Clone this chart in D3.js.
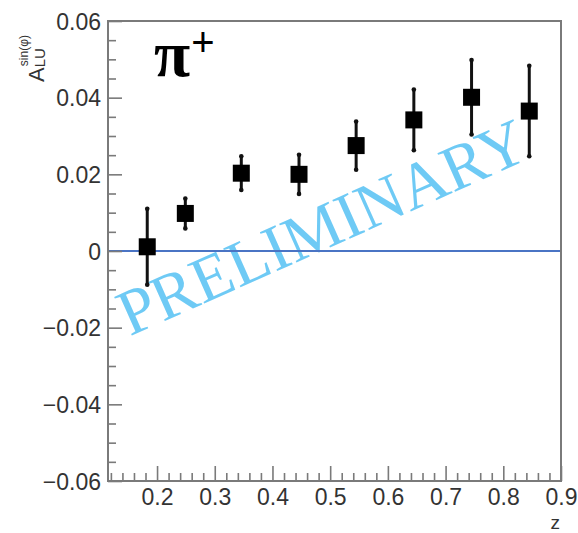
<!DOCTYPE html>
<html>
<head>
<meta charset="utf-8">
<script src="https://cdn.jsdelivr.net/npm/d3@7"></script>
<style>
  html, body { margin: 0; padding: 0; background: #fff; }
  svg { display: block; }
</style>
</head>
<body>
<svg id="chart" width="578" height="533"></svg>
<script>
// ---- data ----
const zValues   = [0.183, 0.249, 0.346, 0.446, 0.545, 0.645, 0.745, 0.845];
const aluValues = [0.0011, 0.0098, 0.0203, 0.0200, 0.0275, 0.0342, 0.0401, 0.0365];
const aluErrors = [0.0099, 0.0039, 0.0044, 0.0051, 0.0063, 0.0079, 0.0097, 0.0118];
const xTickValues = [0.2, 0.3, 0.4, 0.5, 0.6, 0.7, 0.8, 0.9];
const yTickValues = [-0.06, -0.04, -0.02, 0, 0.02, 0.04, 0.06];
const yTickLabels = ["\u22120.06", "\u22120.04", "\u22120.02", "0", "0.02", "0.04", "0.06"];
const xDomain = [0.115, 0.9];
const yDomain = [-0.06, 0.06];

// ---- layout ----
const pLeft = 108, pRight = 561, pTop = 21, pBottom = 481;
const svg = d3.select("#chart");
const x = d3.scaleLinear().domain(xDomain).range([pLeft, pRight]);
const y = d3.scaleLinear().domain(yDomain).range([pBottom, pTop]);
const axisColor = "#7a7a7a";
const labelColor = "#333";
const fontSans = "'Liberation Sans', Arial, Helvetica, sans-serif";

// minor ticks
const xMinor = d3.range(0.12, 0.9001, 0.02).filter(v => !xTickValues.some(t => Math.abs(t - v) < 1e-6));
const yMinor = d3.range(-0.06, 0.06001, 0.005).filter(v => !yTickValues.some(t => Math.abs(t - v) < 1e-6));

// ---- watermark (behind data) ----
svg.append("text")
  .attr("transform", "translate(331,247) rotate(-24)")
  .attr("text-anchor", "middle")
  .attr("font-family", "'Liberation Serif', 'Times New Roman', serif")
  .attr("font-size", 65)
  .attr("fill", "#5ec4f4")
  .attr("fill-opacity", 0.9)
  .text("PRELIMINARY");

// ---- zero line ----
svg.append("line")
  .attr("x1", pLeft).attr("x2", pRight)
  .attr("y1", y(0)).attr("y2", y(0))
  .attr("stroke", "#4a74c4").attr("stroke-width", 2);

// ---- axes ----
const gx = svg.append("g").attr("transform", `translate(0,${pBottom})`);
gx.call(d3.axisBottom(x).tickValues(xTickValues).tickSize(-15).tickPadding(24)
  .tickFormat(d3.format(".1f")));
gx.append("g").call(d3.axisBottom(x).tickValues(xMinor).tickSize(-8).tickFormat(""));

const gy = svg.append("g").attr("transform", `translate(${pLeft},0)`);
gy.call(d3.axisLeft(y).tickValues(yTickValues).tickSize(-14).tickPadding(21)
  .tickFormat((d, i) => yTickLabels[i]));
gy.append("g").call(d3.axisLeft(y).tickValues(yMinor).tickSize(-8).tickFormat(""));

svg.selectAll(".domain").remove();
svg.selectAll(".tick line").attr("stroke", axisColor).attr("stroke-width", 1.6);
svg.selectAll(".tick text")
  .attr("font-family", fontSans).attr("font-size", 23).attr("fill", labelColor);
gy.selectAll(".tick text").attr("x", -7).attr("dy", "0.36em");
gx.selectAll(".tick text").attr("dy", "0em");

// frame
svg.append("rect")
  .attr("x", pLeft).attr("y", pTop)
  .attr("width", pRight - pLeft).attr("height", pBottom - pTop)
  .attr("fill", "none").attr("stroke", axisColor).attr("stroke-width", 2);

// ---- data points ----
const pts = zValues.map((z, i) => ({ z, v: aluValues[i], e: aluErrors[i] }));
const g = svg.append("g");
g.selectAll("line.err").data(pts).join("line")
  .attr("class", "err")
  .attr("x1", d => x(d.z)).attr("x2", d => x(d.z))
  .attr("y1", d => y(d.v + d.e)).attr("y2", d => y(d.v - d.e))
  .attr("stroke", "#111").attr("stroke-width", 3);
g.selectAll("circle.capT").data(pts).join("circle")
  .attr("cx", d => x(d.z)).attr("cy", d => y(d.v + d.e)).attr("r", 2.3).attr("fill", "#111");
g.selectAll("circle.capB").data(pts).join("circle")
  .attr("cx", d => x(d.z)).attr("cy", d => y(d.v - d.e)).attr("r", 2.3).attr("fill", "#111");
const ms = 17;
g.selectAll("rect.mk").data(pts).join("rect")
  .attr("x", d => x(d.z) - ms / 2).attr("y", d => y(d.v) - ms / 2)
  .attr("width", ms).attr("height", ms).attr("fill", "#000");

// ---- labels ----
svg.append("text")
  .attr("x", pRight - 1).attr("y", 528.5)
  .attr("text-anchor", "end")
  .attr("font-family", fontSans).attr("font-size", 19).attr("fill", labelColor)
  .text("z");

const yt = svg.append("text")
  .attr("transform", "translate(44,82) rotate(-90)")
  .attr("font-family", fontSans).attr("fill", labelColor);
yt.append("tspan").attr("font-size", 22).text("A");
yt.append("tspan").attr("font-size", 15).attr("dy", 1).text("LU");
yt.append("tspan").attr("font-size", 12).attr("dx", -18).attr("dy", -17).text("sin(\u03c6)");

const pl = svg.append("text")
  .attr("x", 154).attr("y", 76)
  .attr("font-family", "'Liberation Serif', 'Times New Roman', serif")
  .attr("fill", "#000");
pl.append("tspan").attr("font-size", 66).attr("font-weight", "bold").text("\u03c0");
pl.append("tspan").attr("font-size", 40).attr("dx", 1).attr("dy", -20)
  .attr("font-family", fontSans).text("+");
</script>
</body>
</html>
